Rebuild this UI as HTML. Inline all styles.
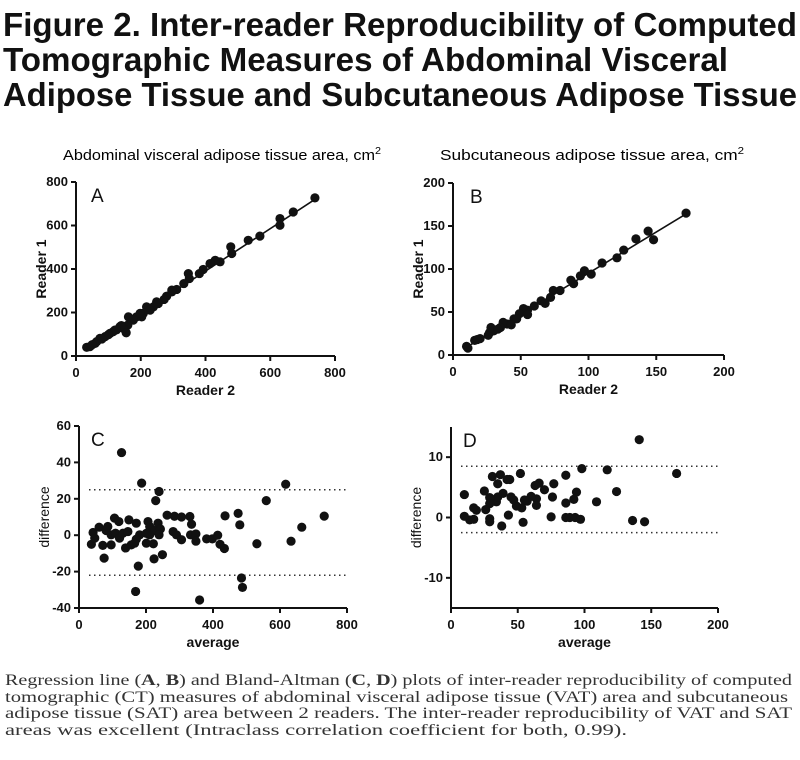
<!DOCTYPE html>
<html><head><meta charset="utf-8"><style>
body{margin:0;background:#fff;}
svg{display:block;}
.t{font-family:"Liberation Sans",Arial,sans-serif;}
.tick{font-family:"Liberation Sans",Arial,sans-serif;font-weight:bold;font-size:13px;fill:#111;}
.cap{font-family:"Liberation Serif","DejaVu Serif",serif;font-size:16px;fill:#333;}
</style></head><body>
<svg id="fig" width="800" height="760" xmlns="http://www.w3.org/2000/svg">
<g class="t" font-weight="bold" font-size="33" fill="#111">
<text x="3" y="36" textLength="794" lengthAdjust="spacingAndGlyphs">Figure 2. Inter-reader Reproducibility of Computed</text>
<text x="3" y="71" textLength="725" lengthAdjust="spacingAndGlyphs">Tomographic Measures of Abdominal Visceral</text>
<text x="3" y="106" textLength="794" lengthAdjust="spacingAndGlyphs">Adipose Tissue and Subcutaneous Adipose Tissue</text>
</g>
<text class="t" x="63" y="160" font-size="15" textLength="318" lengthAdjust="spacingAndGlyphs">Abdominal visceral adipose tissue area, cm<tspan dy="-6" font-size="10">2</tspan></text>
<text class="t" x="440" y="160" font-size="15" textLength="304" lengthAdjust="spacingAndGlyphs">Subcutaneous adipose tissue area, cm<tspan dy="-6" font-size="10">2</tspan></text>
<g id="charts"></g>
<g class="cap">
<text x="5" y="685" textLength="787" lengthAdjust="spacingAndGlyphs">Regression line (<tspan font-weight="bold">A</tspan>, <tspan font-weight="bold">B</tspan>) and Bland-Altman (<tspan font-weight="bold">C</tspan>, <tspan font-weight="bold">D</tspan>) plots of inter-reader reproducibility of computed</text>
<text x="5" y="702" textLength="783" lengthAdjust="spacingAndGlyphs">tomographic (CT) measures of abdominal visceral adipose tissue (VAT) area and subcutaneous</text>
<text x="5" y="718" textLength="787" lengthAdjust="spacingAndGlyphs">adipose tissue (SAT) area between 2 readers. The inter-reader reproducibility of VAT and SAT</text>
<text x="5" y="735" textLength="622" lengthAdjust="spacingAndGlyphs">areas was excellent (Intraclass correlation coefficient for both, 0.99).</text>
</g>
</svg>
<script>
const aX=[738,671,630,630,568,532,478,481,445,430,414,393,381,347,350,333,311,296,280,272,249,239,218,208,203,187,162,177,160,155,136,120,105,90,74,59,43,33,229,254,198,146,115,64,296,140,125,100,80,50];
const aY=[727,662,632,601,551,532,502,471,433,440,425,398,379,379,356,333,306,295,275,260,249,226,226,196,180,180,180,165,142,107,135,119,104,89,81,58,43,40,211,241,196,127,112,66,303,140,120,98,78,52];
const aLine=[[30,30],[740,722]];
const bX=[172,148,144,135,126,121,110,102,97,94,89,87,79,74,72,65,60,55,52,55,49,45,40,37,35,30,27,26,16,20,10,11,43,28,68,18,33,47];
const bY=[165,134,144,135,122,113,107,94,98,92,83,87,75,75,67,63,57,52,54,47,48,42,36,38,32,28,26,23,17,19,10,8,35,32,60,18,30,42];
const bLine=[[10,9],[172,164]];
const cX=[127,187,239,229,617,559,732,436,475,480,665,633,531,485,488,360,169,177,75,224,249,263,285,306,331,336,333,349,349,381,398,414,421,434,37,47,42,60,71,81,86,96,106,119,109,121,131,139,149,156,171,181,171,166,201,206,211,211,222,226,236,243,239,281,291,306,146,96,201];
const cY=[45.4,28.6,24,19,28,19,10.5,10.6,12,5.7,4.4,-3.3,-4.7,-23.5,-28.7,-35.6,-30.9,-17,-12.6,-13,-10.7,11,10.4,10,10.3,6,0.2,0.7,-3.3,-2,-2,0,-5,-7.3,-5,-1.6,1.5,4.4,-5.6,2.6,4.8,0.2,9.4,7.5,1.1,-1.6,1.1,-7,8.4,-5.3,6.6,0.2,-2.2,-4.4,-4.4,7.5,4.8,0.2,-4.7,2.6,6.6,3.4,0.2,2,0.2,-2.5,2,-5.3,1];
const cLimits=[25,-22];
const dX=[141,169,117,98,86,124,109,94,92,86,86,89,93,97,136,145,75,77,70,76,64,64,66,63,60,57,55,52,53,54,49,47,44,42,43,37,31,35,38,39,34,35,29,29,29,29,25,26,19,17,17,14,10,10,45];
const dY=[12.9,7.3,7.9,8.1,7,4.3,2.6,4.2,3,2.4,0,0,0,-0.3,-0.5,-0.7,0.1,5.6,4.6,3.4,3.1,2,5.7,5.3,3.5,2.7,2.9,7.3,1.6,-0.8,1.9,2.9,6.3,6.3,0.4,7.1,6.8,5.6,-1.4,4,2.6,3.4,3.3,2.3,-0.2,-0.7,4.4,1.3,1.2,1.6,-0.3,-0.4,3.8,0.2,3.4];
const dLimits=[8.5,-2.5];
const aTicks=[0,200,400,600,800], bTicks=[0,50,100,150,200];
const cYTicks=[-40,-20,0,20,40,60], dYTicks=[-10,0,10];

const NS="http://www.w3.org/2000/svg";
const root=document.getElementById('charts');
function mk(tag,attrs,parent){const e=document.createElementNS(NS,tag);for(const k in attrs)e.setAttribute(k,attrs[k]);(parent||root).appendChild(e);return e;}
function panel(o){
  const g=mk('g',{});
  
  
  const sx=v=>o.x0+(v-o.xmin)/(o.xmax-o.xmin)*(o.x1-o.x0);
  const sy=v=>o.y0-(v-o.ymin)/(o.ymax-o.ymin)*(o.y0-o.y1);
  const ax=mk('g',{stroke:'#111','stroke-width':2},g);
  
  
  mk('line',{x1:o.x0,y1:o.y0,x2:o.x1,y2:o.y0},ax);
  mk('line',{x1:o.x0,y1:o.y0,x2:o.x0,y2:o.y1},ax);
  o.xt.forEach(v=>{mk('line',{x1:sx(v),y1:o.y0,x2:sx(v),y2:o.y0+5},ax);
    const t=mk('text',{x:sx(v),y:o.y0+21,'text-anchor':'middle',class:'tick'},g);t.textContent=v;
    
    });
  o.yt.forEach(v=>{mk('line',{x1:o.x0-5,y1:sy(v),x2:o.x0,y2:sy(v)},ax);
    const t=mk('text',{x:o.x0-8,y:sy(v)+4,'text-anchor':'end',class:'tick'},g);t.textContent=v;
    
    });
  if(o.line){const l=mk('line',{x1:sx(o.line[0][0]),y1:sy(o.line[0][1]),x2:sx(o.line[1][0]),y2:sy(o.line[1][1]),stroke:'#111','stroke-width':1.6},g);
    
    }
  if(o.limits){o.limits.forEach(v=>{const l=mk('line',{x1:o.x0+10,y1:sy(v),x2:o.x1,y2:sy(v),stroke:'#333','stroke-width':1.5,'stroke-dasharray':'1.5 3.5'},g);
    
    });}
  o.xs.forEach((v,i)=>{const c=mk('circle',{cx:sx(v),cy:sy(o.ys[i]),r:4.6,fill:'#111'},g);
    
    });
  const L=mk('text',{x:o.x0+o.lx,y:o.y1+20,class:'t','font-size':19,fill:'#111'},g);L.textContent=o.letter;
  
  
  const t=mk('text',{x:(o.x0+o.x1)/2,y:o.y0+39,'text-anchor':'middle',class:'t','font-weight':'bold','font-size':14,fill:'#111'},g);t.textContent=o.xl;
  
  
  const cy=(o.y0+o.y1)/2,cx=o.x0-30;
  const yl=mk('text',{x:cx,y:cy,transform:`rotate(-90 ${cx} ${cy})`,'text-anchor':'middle',class:'t','font-weight':o.ylw,'font-size':14,fill:'#111'},g);yl.textContent=o.yl;
  
  
}
panel({name:'panel-a',x0:76,x1:335,y0:356,y1:182,xmin:0,xmax:800,ymin:0,ymax:800,xt:aTicks,yt:aTicks,xs:aX,ys:aY,line:aLine,letter:'A',lx:15,xl:'Reader 2',yl:'Reader 1',ylw:'bold'});
panel({name:'panel-b',x0:453,x1:724,y0:355,y1:183,xmin:0,xmax:200,ymin:0,ymax:200,xt:bTicks,yt:bTicks,xs:bX,ys:bY,line:bLine,letter:'B',lx:17,xl:'Reader 2',yl:'Reader 1',ylw:'bold'});
panel({name:'panel-c',x0:79,x1:347,y0:608,y1:426,xmin:0,xmax:800,ymin:-40,ymax:60,xt:aTicks,yt:cYTicks,xs:cX,ys:cY,limits:cLimits,letter:'C',lx:12,xl:'average',yl:'difference',ylw:'normal'});
panel({name:'panel-d',x0:451,x1:718,y0:608,y1:427,xmin:0,xmax:200,ymin:-15,ymax:15,xt:bTicks,yt:dYTicks,xs:dX,ys:dY,limits:dLimits,letter:'D',lx:12,xl:'average',yl:'difference',ylw:'normal'});
</script>
</body></html>
